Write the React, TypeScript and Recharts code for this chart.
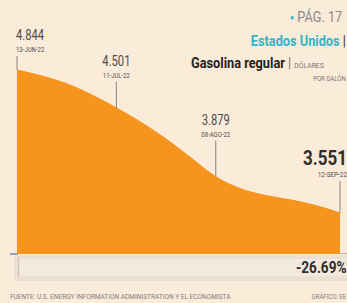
import React from 'react';
import { AreaChart, Area, XAxis, YAxis } from 'recharts';

// weekly regular gasoline price, USD per gallon
const weeks = ['13-JUN-22', '20-JUN-22', '27-JUN-22', '04-JUL-22', '11-JUL-22', '18-JUL-22', '25-JUL-22',
    '01-AGO-22', '08-AGO-22', '15-AGO-22', '22-AGO-22', '29-AGO-22', '05-SEP-22', '12-SEP-22'];
const prices = [4.844, 4.79, 4.72, 4.62, 4.501, 4.37, 4.22, 4.05, 3.879, 3.77, 3.71, 3.67, 3.62, 3.551];
const labeled = [0, 4, 8, 13];
const change = '-26.69%';

const data = weeks.map((w, i) => ({ week: w, price: prices[i] }));

const font = 'Roboto, "Noto Sans", sans-serif';
const colors = {
    bg: '#fbebd9',
    orange: '#f7941e',
    text: '#4d4d4d',
    teal: '#2fb6c7',
    band: '#ece0d2',
    bandInner: '#f3e9de',
};

// vertical distance from point to value label, per labeled point
const lift = [28, 40, 50, 46];

const Narrow = ({ x, y, anchor, size, weight = 400, color, sx = 0.8, children }: any) => {
    const origin = anchor === 'end' ? 'right' : 'left';
    const style: React.CSSProperties = {
        position: 'absolute', top: y, fontSize: size, fontWeight: weight, color,
        whiteSpace: 'nowrap', lineHeight: 1, fontFamily: font,
        transform: `scaleX(${sx})`, transformOrigin: origin,
    };
    if (anchor === 'end') style.right = 347 - x; else style.left = x;
    return <div style={style}>{children}</div>;
};

const PointLabel = (props: any) => {
    const { x, y, index, value } = props;
    const k = labeled.indexOf(index);
    if (k < 0) return null;
    const isFirst = k === 0;
    const isLast = k === labeled.length - 1;
    const anchor = isFirst ? 'start' : isLast ? 'end' : 'middle';
    const tx = isFirst ? x - 1 : isLast ? x + 7 : x;
    const top = y - lift[k];
    return (
        <g>
            <g transform={`translate(${tx},0) scale(${isLast ? 0.85 : 0.8},1)`}>
                <text x={0} y={top - 2} textAnchor={anchor} fontFamily={font}
                    fontSize={isLast ? 20 : 14} fontWeight={isLast ? 700 : 400}
                    fill={isLast ? '#2e2e2e' : colors.text}>
                    {value.toFixed(3)}
                </text>
                <text x={0} y={top + 10} textAnchor={anchor} fontFamily={font} fontSize={7.5} fill={colors.text}>
                    {weeks[index]}
                </text>
            </g>
            <line x1={x} x2={x} y1={top + 14} y2={y} stroke="#6b6b6b" strokeWidth={0.8} />
        </g>
    );
};

export default function App() {
    return (
        <div style={{ position: 'absolute', left: 0, top: 0, width: 347, height: 303, background: colors.bg, overflow: 'hidden', fontFamily: font }}>
            {/* header */}
            <Narrow x={290} y={10} size={15} color="#8a8a8a" sx={0.85}>
                <span style={{ color: colors.teal, fontSize: 8, verticalAlign: 'middle' }}>●</span> PÁG. 17
            </Narrow>
            <Narrow x={346} y={34} anchor="end" size={15} weight={700} color={colors.teal} sx={0.85}>
                Estados Unidos <span style={{ color: '#333', fontWeight: 400 }}>|</span>
            </Narrow>
            <Narrow x={191} y={56} size={15} weight={700} color="#222" sx={0.85}>
                Gasolina regular <span style={{ fontWeight: 400, color: '#777' }}>|</span>{' '}
                <span style={{ fontWeight: 400, fontSize: 8, color: '#777' }}>DÓLARES</span>
            </Narrow>
            <Narrow x={346} y={75} anchor="end" size={7.5} color="#777">POR GALÓN</Narrow>

            {/* bottom band */}
            <div style={{ position: 'absolute', left: 14, top: 255, width: 333, height: 26, background: colors.band }} />
            <div style={{ position: 'absolute', left: 20, top: 259, width: 327, height: 17, background: colors.bandInner }} />
            <div style={{ position: 'absolute', left: 18, top: 257, width: 1, height: 20, background: '#cfc4b8' }} />
            <div style={{ position: 'absolute', left: 10, top: 253, width: 337, height: 1, background: '#b9b0a5' }} />
            <div style={{ position: 'absolute', left: 10, top: 253, width: 8, height: 2, background: '#8fa9c2' }} />
            <Narrow x={346} y={260} anchor="end" size={16} weight={700} color="#2e2e2e" sx={0.85}>{change}</Narrow>

            {/* source */}
            <Narrow x={10} y={293} size={7.5} color="#808080" sx={0.87}>
                FUENTE: U.S. ENERGY INFORMATION ADMINISTRATION Y EL ECONOMISTA
            </Narrow>
            <Narrow x={346} y={293} anchor="end" size={7.5} color="#808080">GRÁFICO: EE</Narrow>

            <div style={{ position: 'absolute', left: 0, top: 0 }}>
                <AreaChart width={347} height={303} data={data} margin={{ top: 70, right: 7, left: 17, bottom: 49 }}>
                    <XAxis dataKey="week" hide />
                    <YAxis hide domain={[3.18, 4.844]} allowDataOverflow />
                    <Area
                        type="monotone"
                        dataKey="price"
                        stroke={colors.orange}
                        strokeWidth={1}
                        fill={colors.orange}
                        fillOpacity={1}
                        baseValue={3.18}
                        isAnimationActive={false}
                        label={<PointLabel />}
                    />
                </AreaChart>
            </div>
        </div>
    );
}
